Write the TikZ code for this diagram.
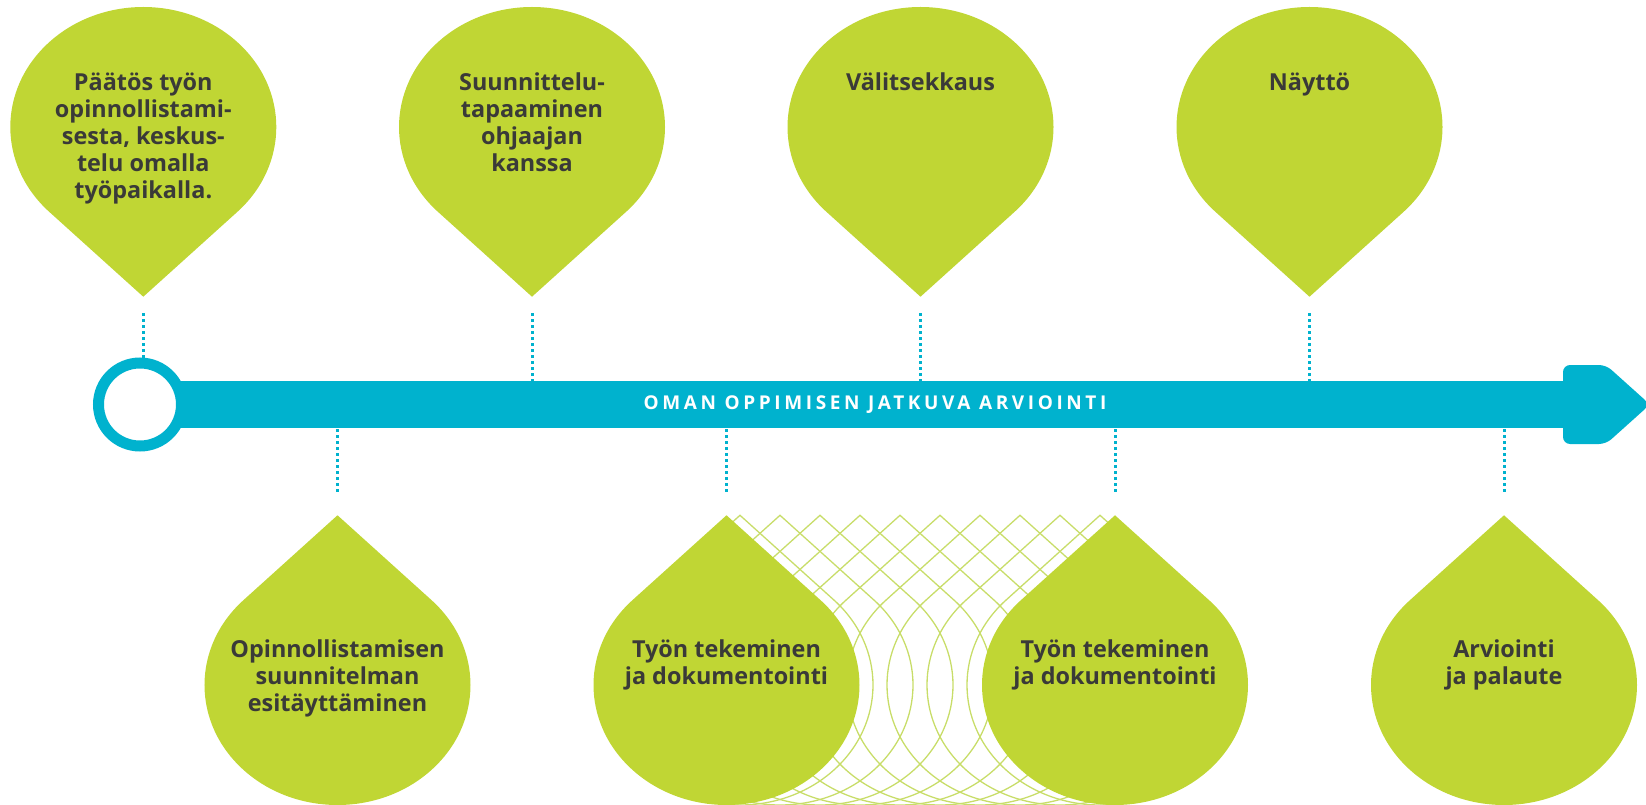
\documentclass[tikz,border=0pt]{standalone}
\usepackage{fontspec}
\setmainfont{Open Sans}
\newfontfamily\barfont[LetterSpace=19]{Open Sans}
\definecolor{dropgreen}{RGB}{192,214,52}
\definecolor{latticegreen}{RGB}{200,221,105}
\definecolor{barteal}{RGB}{0,178,206}
\definecolor{ink}{RGB}{58,58,56}
\tikzset{
  droppath/.pic={
    \path[pic actions, yscale=0.9023] (0,-188.1) -- (94.05,-94.05)
      arc[start angle=-45,end angle=225,radius=133] -- cycle;
  },
  dropfill/.style={fill=dropgreen},
  latticeline/.style={draw=latticegreen, line width=1.3pt},
  dotline/.style={draw=barteal, line width=3pt, dash pattern=on 3pt off 3pt},
  droptext/.style={align=center, inner sep=0pt, text=ink,
    font=\bfseries\fontsize{23.4}{27}\selectfont},
  bartext/.style={inner sep=0pt, text=white, font=\barfont\bfseries\fontsize{19}{19}\selectfont}
}
\begin{document}
\begin{tikzpicture}[x=1pt,y=1pt]
\useasboundingbox (0,0) rectangle (1646,-805);
% lattice of drop outlines
\foreach \k in {0,...,9}{
  \pic[latticeline, rotate=180] at ({740+40*\k},-685) {droppath};
}
% top drops
\pic[dropfill] at (143.3,-127) {droppath};
\pic[dropfill] at (532,-127) {droppath};
\pic[dropfill] at (920.5,-127) {droppath};
\pic[dropfill] at (1309.5,-127) {droppath};
% bottom drops
\pic[dropfill, rotate=180] at (337.5,-685) {droppath};
\pic[dropfill, rotate=180] at (726.5,-685) {droppath};
\pic[dropfill, rotate=180] at (1115,-685) {droppath};
\pic[dropfill, rotate=180] at (1504,-685) {droppath};
% timeline bar
\fill[barteal] (140,-381) rectangle (1570,-428);
\fill[barteal, rounded corners=7pt] (1563,-365) -- (1606,-365) -- (1650,-404.5) -- (1606,-444) -- (1563,-444) -- cycle;
\node[circle, draw=barteal, line width=11pt, fill=white, minimum size=83pt, inner sep=0pt] (ring) at (140,-404.5) {};
\node[bartext] (bar) at (875,-404.5) {OMAN OPPIMISEN JATKUVA ARVIOINTI};
% connector coordinates
\coordinate (tA) at (143.3,-313);
\coordinate (tB) at (532,-313);   \coordinate (bB) at (532,-381);
\coordinate (tC) at (920.5,-313); \coordinate (bC) at (920.5,-381);
\coordinate (tD) at (1309.5,-313);\coordinate (bD) at (1309.5,-381);
\coordinate (uA) at (337.5,-429); \coordinate (lA) at (337.5,-493);
\coordinate (uB) at (726.5,-429); \coordinate (lB) at (726.5,-493);
\coordinate (uC) at (1115,-429);  \coordinate (lC) at (1115,-493);
\coordinate (uD) at (1504,-429);  \coordinate (lD) at (1504,-493);
\draw[dotline] (tA) -- (143.3,-358);
\draw[dotline] (tB) -- (bB);
\draw[dotline] (tC) -- (bC);
\draw[dotline] (tD) -- (bD);
\draw[dotline] (uA) -- (lA);
\draw[dotline] (uB) -- (lB);
\draw[dotline] (uC) -- (lC);
\draw[dotline] (uD) -- (lD);
% texts
\node[droptext, anchor=north] (p1) at (143.3,-73) {Päätös työn\\opinnollistami-\\sesta, keskus-\\telu omalla\\työpaikalla.};
\node[droptext, anchor=north] (p2) at (532,-73) {Suunnittelu-\\tapaaminen\\ohjaajan\\kanssa};
\node[droptext, anchor=north] (p3) at (920.5,-73) {Välitsekkaus};
\node[droptext, anchor=north] (p4) at (1309.5,-73) {Näyttö};
\node[droptext, anchor=north] (q1) at (337.5,-640) {Opinnollistamisen\\suunnitelman\\esitäyttäminen};
\node[droptext, anchor=north] (q2) at (726.5,-640) {Työn tekeminen\\ja dokumentointi};
\node[droptext, anchor=north] (q3) at (1115,-640) {Työn tekeminen\\ja dokumentointi};
\node[droptext, anchor=north] (q4) at (1504,-640) {Arviointi\\ja palaute};
\end{tikzpicture}
\end{document}
